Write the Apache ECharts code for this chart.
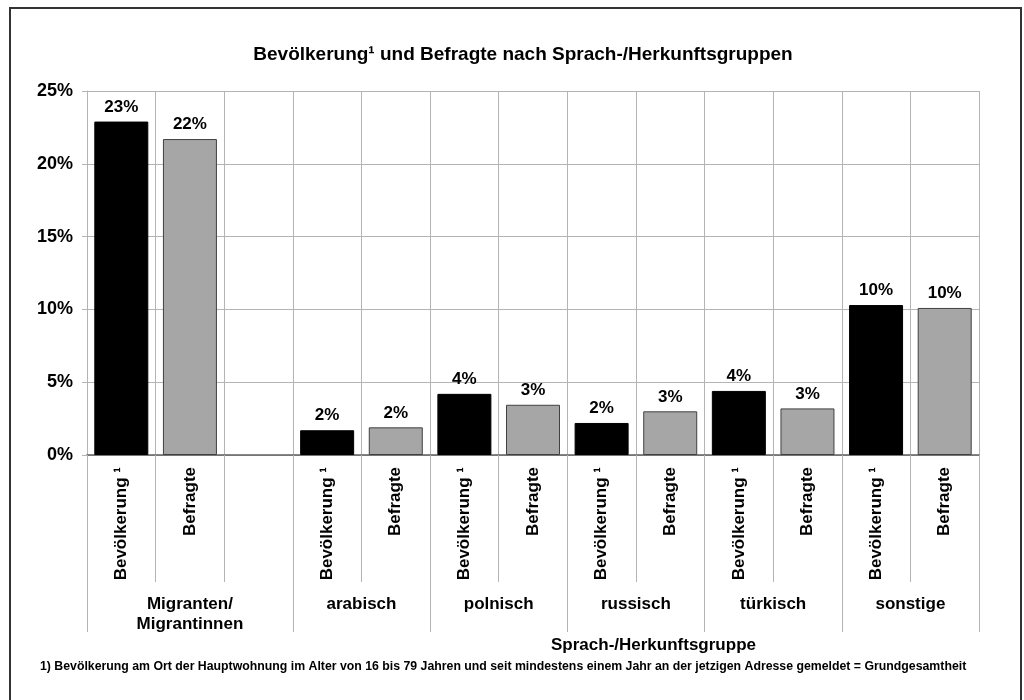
<!DOCTYPE html>
<html>
<head>
<meta charset="utf-8">
<script src="https://cdn.jsdelivr.net/npm/echarts@6/dist/echarts.min.js"></script>
<style>
    html, body {margin: 0; padding: 0; background: #fff;}
    #main {width: 1024px; height: 700px;}
</style>
</head>
<body>
<div id="main"></div>
<script>
// Gruppen (Sprach-/Herkunftsgruppe)
var groups = ['Migranten/\nMigrantinnen', 'arabisch', 'polnisch', 'russisch', 'türkisch', 'sonstige'];
// Anteile in %
var bevoelkerung = [22.9, 1.7, 4.2, 2.2, 4.4, 10.3];
var befragte = [21.7, 1.9, 3.45, 3.0, 3.2, 10.1];
var barNames = ['Bevölkerung ¹', 'Befragte'];
var yTicks = [0, 5, 10, 15, 20, 25];

var FONT = 'Liberation Sans, Arial, sans-serif';

// 13 Plätze: nach der ersten Gruppe ein leerer Platz
var slots = [], bevData = [], befData = [];
groups.forEach(function (g, i) {
    slots.push(barNames[0], barNames[1]);
    bevData.push(bevoelkerung[i], '-');
    befData.push('-', befragte[i]);
    if (i === 0) {
        slots.push('');
        bevData.push('-');
        befData.push('-');
    }
});

// zweite Achse in halben Plätzen fuer Gruppennamen und Trennlinien
var halfCats = [], groupLabelIdx = {}, groupEdgeIdx = {0: true};
var pos = 0;
groups.forEach(function (g, i) {
    var w = (i === 0) ? 3 : 2;
    groupLabelIdx[pos + w] = g;      // Mitte der Gruppe (halbe Plätze)
    pos += w * 2;
    groupEdgeIdx[pos] = true;
});
for (var k = 0; k <= slots.length * 2; k++) {
    halfCats.push(groupLabelIdx[k] || '');
}

var chart = echarts.init(document.getElementById('main'));

var labelStyle = {
    show: true,
    position: 'top',
    distance: 6,
    color: '#000',
    fontFamily: FONT,
    fontWeight: 'bold',
    fontSize: 17,
    formatter: function (p) {
        return Math.round(p.value) + '%';
    }
};

chart.setOption({
    animation: false,
    backgroundColor: '#fff',
    title: {
        text: 'Bevölkerung¹ und Befragte nach Sprach-/Herkunftsgruppen',
        left: 518,
        top: 40,
        textAlign: 'center',
        textStyle: {fontFamily: FONT, fontWeight: 'bold', fontSize: 19, color: '#000'}
    },
    grid: {left: 87, right: 45, top: 91, bottom: 245},
    xAxis: [
        {
            type: 'category',
            data: slots,
            axisLine: {show: true, lineStyle: {color: '#606060', width: 1.5}},
            axisTick: {show: true, interval: 0, length: 127, lineStyle: {color: '#b4b4b4'}},
            splitLine: {show: true, interval: 0, lineStyle: {color: '#b4b4b4'}},
            axisLabel: {
                interval: 0,
                rotate: 90,
                margin: 12,
                color: '#000',
                fontFamily: FONT,
                fontWeight: 'bold',
                fontSize: 17
            }
        },
        {
            type: 'category',
            data: halfCats,
            position: 'bottom',
            boundaryGap: false,
            axisLine: {show: false},
            axisTick: {
                show: true,
                length: 177,
                interval: function (i) { return !!groupEdgeIdx[i]; },
                lineStyle: {color: '#b4b4b4'}
            },
            axisLabel: {
                interval: function (i, v) { return v !== ''; },
                margin: 139,
                lineHeight: 20,
                color: '#000',
                fontFamily: FONT,
                fontWeight: 'bold',
                fontSize: 17
            }
        }
    ],
    yAxis: {
        type: 'value',
        min: yTicks[0],
        max: yTicks[yTicks.length - 1],
        interval: 5,
        axisLine: {show: true, lineStyle: {color: '#b4b4b4'}},
        axisTick: {show: true, length: 5, lineStyle: {color: '#b4b4b4'}},
        splitLine: {show: true, lineStyle: {color: '#b4b4b4'}},
        axisLabel: {
            margin: 14,
            formatter: '{value}%',
            color: '#000',
            fontFamily: FONT,
            fontWeight: 'bold',
            fontSize: 18
        }
    },
    series: [
        {
            name: 'Bevölkerung',
            type: 'bar',
            barWidth: 54,
            barGap: '-100%',
            data: bevData,
            itemStyle: {color: '#000', borderColor: '#000', borderWidth: 1},
            label: labelStyle
        },
        {
            name: 'Befragte',
            type: 'bar',
            barWidth: 54,
            barGap: '-100%',
            data: befData,
            itemStyle: {color: '#a6a6a6', borderColor: '#404040', borderWidth: 1},
            label: labelStyle
        }
    ],
    graphic: [
        {
            type: 'rect',
            shape: {x: 10, y: 8, width: 1011, height: 720},
            style: {fill: null, stroke: '#333', lineWidth: 2},
            silent: true
        },
        {
            type: 'text',
            left: 551,
            top: 637,
            style: {
                text: 'Sprach-/Herkunftsgruppe',
                fill: '#000',
                font: 'bold 17px ' + FONT
            }
        },
        {
            type: 'text',
            left: 40,
            top: 661,
            style: {
                text: '1) Bevölkerung am Ort der Hauptwohnung im Alter von 16 bis 79 Jahren und seit mindestens einem Jahr an der jetzigen Adresse gemeldet = Grundgesamtheit',
                fill: '#000',
                font: 'bold 12.3px ' + FONT
            }
        }
    ]
});
</script>
</body>
</html>
